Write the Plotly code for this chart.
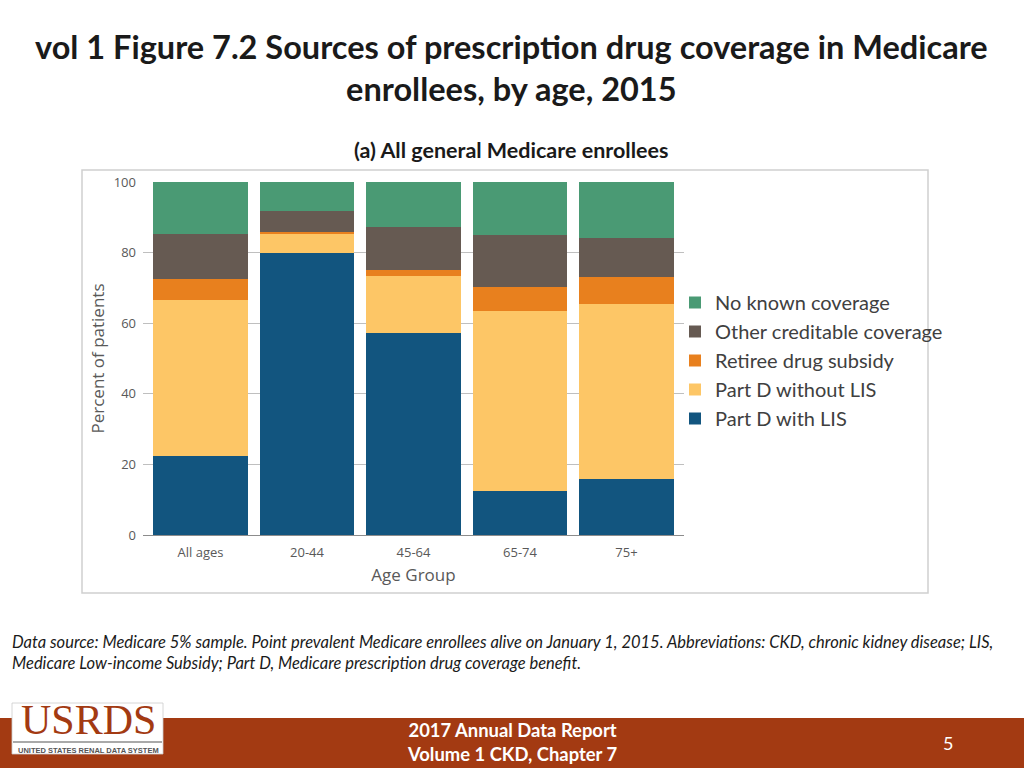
import plotly.graph_objects as go

categories = ["All ages", "20-44", "45-64", "65-74", "75+"]
part_d_lis = [22.4, 79.9, 57.1, 12.5, 15.9]
part_d_no_lis = [44.2, 5.6, 16.3, 51.0, 49.5]
retiree = [5.9, 0.3, 1.7, 6.7, 7.8]
other_cred = [12.8, 6.1, 12.2, 14.7, 10.9]
no_known = [14.7, 8.1, 12.7, 15.1, 15.9]

series = [
    ("Part D with LIS", part_d_lis, "#12557F"),
    ("Part D without LIS", part_d_no_lis, "#FDC666"),
    ("Retiree drug subsidy", retiree, "#E8801E"),
    ("Other creditable coverage", other_cred, "#665A52"),
    ("No known coverage", no_known, "#4A9A74"),
]

W, H = 1024, 768
def px(x): return x / W
def py(y): return 1 - y / H

fig = go.Figure()
for name, vals, col in series:
    fig.add_trace(go.Bar(x=categories, y=vals, name=name, marker_color=col,
                         marker_line_width=0))

fig.update_layout(
    width=W, height=H,
    margin=dict(l=0, r=0, t=0, b=0, autoexpand=False),
    paper_bgcolor="white", plot_bgcolor="white",
    barmode="stack", bargap=0.115,
    font=dict(family="Open Sans", color="#595959"),
    xaxis=dict(domain=[px(143), px(684)], range=[-0.54, 4.54], automargin=False,
               tickfont=dict(size=13, color="#595959"), ticks="", ticklabelstandoff=8,
               showline=False,
               title=dict(text="Age Group", font=dict(size=17, color="#595959"), standoff=9)),
    yaxis=dict(domain=[py(535), py(182)], range=[0, 100], tickvals=[0, 20, 40, 60, 80, 100],
               automargin=False, ticklabelstandoff=6,
               showgrid=True, gridcolor="#BFBFBF", gridwidth=1,
               zeroline=True, zerolinecolor="#8C8C8C", zerolinewidth=1.2,
               tickfont=dict(size=13, color="#595959"), ticks="",
               title=dict(text="Percent of patients", font=dict(size=17, color="#595959"), standoff=4)),
    legend=dict(x=px(675), y=py(283), xanchor="left", yanchor="top",
                traceorder="reversed", font=dict(family="Lato", size=20, color="#404040"),
                itemwidth=30, tracegroupgap=0, bgcolor="rgba(0,0,0,0)"),
    showlegend=True,
)

shapes = [
    dict(type="rect", xref="paper", yref="paper", x0=px(82), x1=px(928), y0=py(593), y1=py(170),
         line=dict(color="#D0D0D0", width=1.5), fillcolor="rgba(0,0,0,0)", layer="below"),
    dict(type="rect", xref="paper", yref="paper", x0=0, x1=1, y0=0, y1=py(718),
         line=dict(width=0), fillcolor="#A33A12", layer="below"),
    dict(type="rect", xref="paper", yref="paper", x0=px(12), x1=px(163), y0=py(754), y1=py(703),
         line=dict(color="#CCCCCC", width=0.8), fillcolor="white", layer="above"),
    dict(type="line", xref="paper", yref="paper", x0=px(13), x1=px(162), y0=py(742), y1=py(742),
         line=dict(color="#8C8C8C", width=1.5), layer="above"),
]

annotations = [
    dict(text="<b>vol 1 Figure 7.2 Sources of prescription drug coverage in Medicare<br>enrollees, by age, 2015</b>",
         x=px(511), y=py(67), xref="paper", yref="paper", xanchor="center", yanchor="middle",
         showarrow=False, font=dict(family="Lato", size=32.5, color="#1A1A1A"), align="center"),
    dict(text="<b>(a) All general Medicare enrollees</b>", x=px(511), y=py(150), xref="paper", yref="paper",
         xanchor="center", yanchor="middle", showarrow=False,
         font=dict(family="Lato", size=21.5, color="#1A1A1A")),
    dict(text="<i>Data source: Medicare 5% sample. Point prevalent Medicare enrollees alive on January 1, 2015. Abbreviations: CKD, chronic kidney disease; LIS,<br>Medicare Low-income Subsidy; Part D, Medicare prescription drug coverage benefit.</i>",
         x=px(10), y=py(652), xref="paper", yref="paper", xanchor="left", yanchor="middle",
         showarrow=False, align="left", font=dict(family="Lato", size=16.5, color="#1A1A1A")),
    dict(text="<b>2017 Annual Data Report<br>Volume 1 CKD, Chapter 7</b>", x=px(512), y=py(742),
         xref="paper", yref="paper", xanchor="center", yanchor="middle", showarrow=False,
         font=dict(family="Lato", size=18.4, color="white"), align="center"),
    dict(text="5", x=px(948), y=py(743), xref="paper", yref="paper", xanchor="center", yanchor="middle",
         showarrow=False, font=dict(family="Lato", size=18, color="white")),
    dict(text="USRDS", x=px(88), y=py(720), xref="paper", yref="paper", xanchor="center", yanchor="middle",
         showarrow=False, font=dict(family="Liberation Serif", size=42, color="#A33A12")),
    dict(text="<b>UNITED STATES RENAL DATA SYSTEM</b>", x=px(88), y=py(750), xref="paper", yref="paper",
         xanchor="center", yanchor="middle", showarrow=False,
         font=dict(family="Liberation Sans", size=7.5, color="#555555")),
]
fig.update_layout(shapes=shapes, annotations=annotations)

fig.write_html("out.html", config={"displayModeBar": False},
               post_script="document.body.style.margin='0';document.body.style.overflow='hidden';")
